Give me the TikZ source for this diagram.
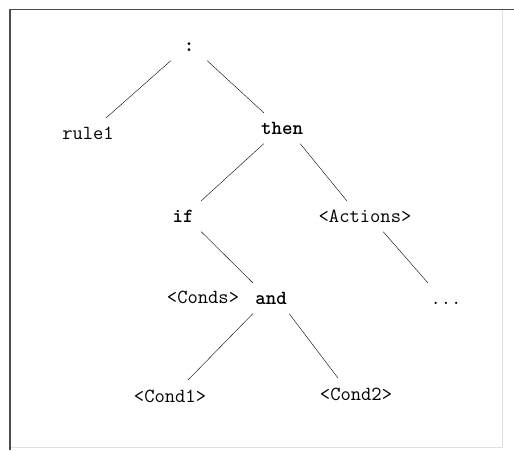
\documentclass[tikz,border=0pt]{standalone}
\usepackage{fontspec}
\newcommand{\kw}[1]{\textbf{#1}}
\newcommand{\lbl}[1]{\makebox[0pt]{#1}}  % zero width, so every box has the same size
\tikzset{
  font=\ttfamily\fontsize{20}{22}\selectfont,
  line width=1.3pt,
  x=1pt, y=1pt,
  parse node/.style={
    inner sep=0pt,
    minimum width=36pt,
    minimum height=30.5pt,
    text height=13.5pt,
    text depth=0pt,
    anchor=base
  },
  frame dark/.style={draw=black!70, line width=1.6pt},
  frame light/.style={draw=black!12, line width=1pt}
}
\begin{document}
\begin{tikzpicture}[every node/.style={parse node}]
\useasboundingbox (0,0) rectangle (514,450);
% box round the tree
\draw[frame light] (10,3) rectangle (502,440);
\draw[frame dark] (10,0) -- (10,440.5) -- (514,440.5);
% the tree
\node (colon)   at (189,398) {\lbl{\kw{:}}};
\node (rule1)   at (88,310)  {\lbl{rule1}};
\node (then)    at (282,315) {\lbl{\kw{then}}};
\node (if)      at (183,227) {\lbl{\kw{if}}};
\node (actions) at (365,227) {\lbl{<Actions>}};
\node (conds)   at (203,146) {\lbl{<Conds>}};
\node (and)     at (271,145) {\lbl{\kw{and}}};
\node (dots)    at (446,145) {\lbl{...}};
\node (cond1)   at (170,48)  {\lbl{<Cond1>}};
\node (cond2)   at (356,50)  {\lbl{<Cond2>}};
\path
  (colon.south west)   edge (rule1.north east)
  (colon.south east)   edge (then.north west)
  (then.south west)    edge (if.north east)
  (then.south east)    edge (actions.north west)
  (if.south east)      edge (and.north west)
  (actions.south east) edge (dots.north west)
  (and.south west)     edge (cond1.north east)
  (and.south east)     edge (cond2.north west);
\end{tikzpicture}
\end{document}
